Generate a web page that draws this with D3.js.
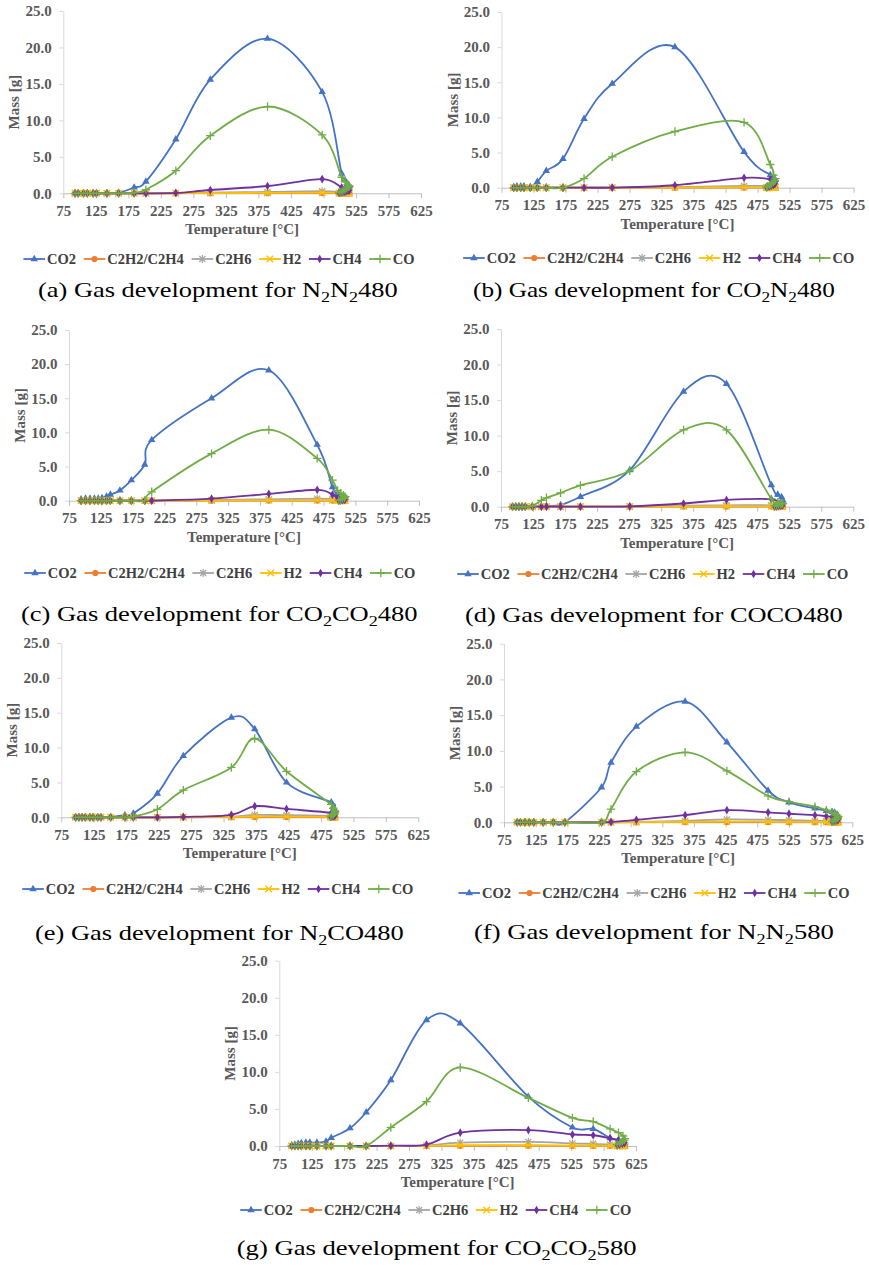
<!DOCTYPE html>
<html>
<head>
<meta charset="utf-8">
<script src="https://cdn.jsdelivr.net/npm/d3@7"></script>
<style>
  body { margin: 0; background: #fff; }
  svg { display: block; }
</style>
</head>
<body>
<svg id="fig" width="869" height="1265"></svg>
<script>
// ---------- shared axis / legend definitions ----------
const SERIES_NAMES  = ["CO2", "C2H2/C2H4", "C2H6", "H2", "CH4", "CO"];
const SERIES_COLORS = ["#4472C4", "#ED7D31", "#A5A5A5", "#FFC000", "#7030A0", "#70AD47"];
const SERIES_MARKERS = ["triangle", "circle", "asterisk", "cross", "diamond", "plus"];
const X_TICKS = [75, 125, 175, 225, 275, 325, 375, 425, 475, 525, 575, 625];
const Y_TICKS = [0, 5, 10, 15, 20, 25];
const X_TITLE = "Temperature [°C]";
const Y_TITLE = "Mass [g]";

// ---------- (a) N2N2480 ----------
const TEMP_A = [93, 98, 106, 112, 121, 126, 142, 160, 184, 202, 248, 301, 389, 473, 503, 508, 512, 515, 514, 511, 508, 505, 502, 499];
const CO2_A  = [0, 0, 0, 0, 0, 0, 0, 0.1, 0.8, 1.6, 7.4, 15.6, 21.2, 13.9, 2.7, 1.8, 1.3, 1.0, 0.8, 0.6, 0.4, 0.3, 0.2, 0.1];
const C2H2_A = [0, 0, 0, 0, 0, 0, 0, 0, 0, 0, 0.01, 0.02, 0.02, 0.03, 0.02, 0.02, 0.02, 0.01, 0.01, 0.01, 0.01, 0, 0, 0];
const C2H6_A = [0, 0, 0, 0, 0, 0, 0, 0, 0, 0, 0.02, 0.08, 0.18, 0.28, 0.15, 0.12, 0.1, 0.08, 0.07, 0.06, 0.05, 0.04, 0.03, 0.02];
const H2_A   = [0, 0, 0, 0, 0, 0, 0, 0, 0, 0, 0.01, 0.03, 0.05, 0.08, 0.05, 0.04, 0.03, 0.03, 0.02, 0.02, 0.02, 0.01, 0.01, 0.01];
const CH4_A  = [0, 0, 0, 0, 0, 0, 0, 0, 0, 0, 0.05, 0.45, 1.0, 1.95, 0.8, 0.6, 0.5, 0.4, 0.35, 0.3, 0.2, 0.15, 0.1, 0.05];
const CO_A   = [0, 0, 0, 0, 0, 0, 0, 0, 0.1, 0.5, 3.1, 7.9, 11.9, 8.0, 2.2, 1.6, 1.2, 1.0, 0.9, 0.7, 0.5, 0.3, 0.2, 0.1];

// ---------- (b) CO2N2480 ----------
const TEMP_B = [94, 99, 105, 110, 120, 131, 145, 171, 204, 248, 346, 454, 495, 500, 503, 502, 500, 497, 494, 491, 489];
const CO2_B  = [0.1, 0.2, 0.2, 0.2, 0.1, 0.85, 2.4, 4.1, 9.8, 14.8, 20.0, 5.1, 1.8, 1.4, 1.1, 0.9, 0.7, 0.5, 0.35, 0.2, 0.1];
const C2H2_B = [0, 0, 0, 0, 0, 0, 0, 0, 0, 0, 0.01, 0.02, 0.02, 0.02, 0.02, 0.01, 0.01, 0.01, 0.01, 0, 0];
const C2H6_B = [0, 0, 0, 0, 0, 0, 0, 0, 0, 0.01, 0.08, 0.25, 0.25, 0.2, 0.15, 0.12, 0.1, 0.08, 0.06, 0.04, 0.02];
const H2_B   = [0, 0, 0, 0, 0, 0, 0, 0, 0, 0, 0.03, 0.05, 0.05, 0.04, 0.03, 0.03, 0.02, 0.02, 0.01, 0.01, 0.01];
const CH4_B  = [0, 0, 0, 0, 0, 0, 0, 0, 0, 0.02, 0.35, 1.4, 1.2, 0.9, 0.7, 0.5, 0.4, 0.3, 0.2, 0.1, 0.05];
const CO_B   = [0, 0, 0, 0, 0, 0, 0, 0, 1.3, 4.4, 8.0, 9.3, 3.3, 1.8, 1.3, 1.0, 0.8, 0.6, 0.4, 0.2, 0.1];

// ---------- (c) CO2CO2480 ----------
const TEMP_C = [94, 101, 108, 115, 121, 127, 134, 140, 155, 173, 194, 205, 299, 389, 465, 489, 497, 502, 506, 509, 508, 505, 502, 499];
const CO2_C  = [0.2, 0.3, 0.3, 0.3, 0.3, 0.4, 0.6, 0.9, 1.5, 3.0, 5.3, 8.9, 15.0, 19.1, 8.2, 2.0, 1.0, 0.7, 0.5, 0.4, 0.3, 0.2, 0.1, 0.05];
const C2H2_C = [0, 0, 0, 0, 0, 0, 0, 0, 0, 0, 0, 0, 0.01, 0.02, 0.02, 0.02, 0.02, 0.01, 0.01, 0.01, 0.01, 0, 0, 0];
const C2H6_C = [0, 0, 0, 0, 0, 0, 0, 0, 0, 0, 0, 0, 0.1, 0.2, 0.3, 0.25, 0.15, 0.12, 0.1, 0.08, 0.06, 0.05, 0.03, 0.02];
const H2_C   = [0, 0, 0, 0, 0, 0, 0, 0, 0, 0, 0, 0, 0.03, 0.05, 0.06, 0.05, 0.04, 0.03, 0.03, 0.02, 0.02, 0.01, 0.01, 0.01];
const CH4_C  = [0, 0, 0, 0, 0, 0, 0, 0, 0, 0, 0, 0, 0.3, 1.0, 1.6, 0.9, 0.4, 0.3, 0.25, 0.2, 0.15, 0.1, 0.05, 0.02];
const CO_C   = [0, 0, 0, 0, 0, 0, 0, 0, 0, 0, 0, 1.3, 6.9, 10.4, 6.2, 3.0, 1.5, 1.1, 0.8, 0.6, 0.4, 0.3, 0.15, 0.05];

// ---------- (d) COCO480 ----------
const TEMP_D = [93, 98, 103, 108, 113, 124, 138, 146, 168, 199, 276, 360, 427, 497, 507, 513, 515, 514, 511, 508, 505, 502];
const CO2_D  = [0, 0, 0, 0, 0, 0, 0.05, 0.1, 0.25, 1.4, 5.15, 16.2, 17.3, 3.05, 1.7, 1.35, 0.9, 0.7, 0.5, 0.35, 0.2, 0.1];
const C2H2_D = [0, 0, 0, 0, 0, 0, 0, 0, 0, 0, 0.01, 0.02, 0.02, 0.02, 0.02, 0.01, 0.01, 0.01, 0.01, 0, 0, 0];
const C2H6_D = [0, 0, 0, 0, 0, 0, 0, 0, 0, 0, 0.03, 0.15, 0.2, 0.2, 0.15, 0.12, 0.1, 0.08, 0.06, 0.04, 0.03, 0.02];
const H2_D   = [0, 0, 0, 0, 0, 0, 0, 0, 0, 0, 0.02, 0.05, 0.06, 0.05, 0.04, 0.03, 0.03, 0.02, 0.02, 0.01, 0.01, 0.01];
const CH4_D  = [0, 0, 0, 0, 0, 0, 0, 0, 0, 0, 0.05, 0.45, 0.95, 1.05, 0.4, 0.3, 0.25, 0.2, 0.15, 0.1, 0.05, 0.02];
const CO_D   = [0, 0, 0, 0, 0, 0.1, 0.9, 1.25, 1.95, 3.0, 5.05, 10.8, 10.8, 1.1, 0.6, 0.5, 0.45, 0.4, 0.35, 0.3, 0.2, 0.1];

// ---------- (e) N2CO480 ----------
const TEMP_E = [97, 102, 107, 112, 119, 124, 131, 136, 151, 173, 186, 223, 263, 337, 373, 422, 491, 494, 496, 497, 496, 494, 492, 490];
const CO2_E  = [0, 0, 0, 0, 0, 0, 0, 0, 0.05, 0.3, 0.55, 3.4, 8.8, 14.3, 12.65, 5.0, 2.15, 1.5, 1.1, 0.8, 0.6, 0.4, 0.2, 0.1];
const C2H2_E = [0, 0, 0, 0, 0, 0, 0, 0, 0, 0, 0, 0, 0.01, 0.02, 0.03, 0.03, 0.02, 0.02, 0.01, 0.01, 0.01, 0.01, 0, 0];
const C2H6_E = [0, 0, 0, 0, 0, 0, 0, 0, 0, 0, 0, 0, 0.02, 0.1, 0.35, 0.3, 0.2, 0.15, 0.12, 0.1, 0.08, 0.06, 0.04, 0.02];
const H2_E   = [0, 0, 0, 0, 0, 0, 0, 0, 0, 0, 0, 0, 0.01, 0.05, 0.12, 0.1, 0.06, 0.05, 0.04, 0.03, 0.02, 0.02, 0.01, 0.01];
const CH4_E  = [0, 0, 0, 0, 0, 0, 0, 0, 0, 0, 0, 0, 0.05, 0.35, 1.6, 1.2, 0.65, 0.45, 0.35, 0.3, 0.2, 0.15, 0.1, 0.05];
const CO_E   = [0, 0, 0, 0, 0, 0, 0, 0, 0, 0, 0.1, 1.15, 3.9, 7.15, 11.3, 6.6, 1.85, 1.3, 1.0, 0.8, 0.6, 0.4, 0.25, 0.1];

// ---------- (f) N2N2580 ----------
const TEMP_F = [96, 101, 108, 115, 122, 137, 153, 171, 229, 244, 284, 361, 427, 492, 525, 566, 584, 593, 597, 601, 603, 602, 599, 596, 593];
const CO2_F  = [0, 0, 0, 0, 0, 0, 0, 0, 4.9, 8.35, 13.4, 16.9, 11.2, 4.45, 2.8, 1.95, 1.6, 1.45, 1.35, 1.1, 0.8, 0.6, 0.4, 0.2, 0.1];
const C2H2_F = [0, 0, 0, 0, 0, 0, 0, 0, 0, 0.01, 0.02, 0.03, 0.03, 0.03, 0.02, 0.02, 0.02, 0.02, 0.01, 0.01, 0.01, 0.01, 0, 0, 0];
const C2H6_F = [0, 0, 0, 0, 0, 0, 0, 0, 0, 0, 0.05, 0.2, 0.4, 0.35, 0.3, 0.2, 0.18, 0.15, 0.12, 0.1, 0.08, 0.06, 0.04, 0.03, 0.02];
const H2_F   = [0, 0, 0, 0, 0, 0, 0, 0, 0, 0, 0.02, 0.06, 0.1, 0.08, 0.06, 0.05, 0.04, 0.04, 0.03, 0.03, 0.02, 0.02, 0.01, 0.01, 0.01];
const CH4_F  = [0, 0, 0, 0, 0, 0, 0, 0, 0, 0.05, 0.35, 1.0, 1.7, 1.4, 1.2, 1.0, 0.85, 0.75, 0.6, 0.5, 0.4, 0.3, 0.2, 0.15, 0.1];
const CO_F   = [0, 0, 0, 0, 0, 0, 0, 0, 0, 1.85, 7.1, 9.8, 7.2, 3.7, 2.9, 2.2, 1.7, 1.4, 1.2, 1.0, 0.8, 0.6, 0.4, 0.2, 0.1];

// ---------- (g) CO2CO2580 ----------
const TEMP_G = [94, 99, 104, 109, 116, 122, 133, 147, 155, 184, 209, 247, 302, 354, 459, 527, 559, 585, 598, 605, 608, 607, 604, 600, 596];
const CO2_G  = [0.1, 0.2, 0.3, 0.4, 0.45, 0.45, 0.45, 0.6, 1.1, 2.4, 4.55, 8.9, 17.0, 16.55, 6.65, 2.5, 2.3, 1.05, 0.8, 0.6, 0.5, 0.4, 0.3, 0.2, 0.1];
const C2H2_G = [0, 0, 0, 0, 0, 0, 0, 0, 0, 0, 0, 0, 0.02, 0.03, 0.04, 0.03, 0.03, 0.02, 0.02, 0.02, 0.01, 0.01, 0.01, 0, 0];
const C2H6_G = [0, 0, 0, 0, 0, 0, 0, 0, 0, 0, 0, 0, 0.05, 0.45, 0.55, 0.35, 0.3, 0.2, 0.15, 0.12, 0.1, 0.08, 0.05, 0.03, 0.02];
const H2_G   = [0, 0, 0, 0, 0, 0, 0, 0, 0, 0, 0, 0, 0.02, 0.1, 0.1, 0.06, 0.05, 0.04, 0.03, 0.03, 0.02, 0.02, 0.01, 0.01, 0.01];
const CH4_G  = [0, 0, 0, 0, 0, 0, 0, 0, 0, 0, 0, 0.05, 0.2, 1.8, 2.15, 1.55, 1.45, 1.05, 0.8, 0.6, 0.5, 0.4, 0.3, 0.2, 0.1];
const CO_G   = [0, 0, 0, 0, 0, 0, 0, 0, 0, 0, 0, 2.5, 6.0, 10.6, 6.5, 3.8, 3.3, 2.3, 1.8, 1.35, 1.0, 0.8, 0.6, 0.4, 0.2];

// ---------- panel placement ----------
const PANELS = [
  { temps: TEMP_A, series: [CO2_A, C2H2_A, C2H6_A, H2_A, CH4_A, CO_A],
    x0: 63.3, x1: 421, yTop: 11, y0: 193.3, legendCx: 219, legendY: 259,
    capCx: 218, capW: 360, capY: 297, caption: "(a) Gas development for N₂N₂480" },
  { temps: TEMP_B, series: [CO2_B, C2H2_B, C2H6_B, H2_B, CH4_B, CO_B],
    x0: 501.5, x1: 853.5, yTop: 12, y0: 187.7, legendCx: 658.7, legendY: 258,
    capCx: 654, capW: 362, capY: 297, caption: "(b) Gas development for CO₂N₂480" },
  { temps: TEMP_C, series: [CO2_C, C2H2_C, C2H6_C, H2_C, CH4_C, CO_C],
    x0: 69, x1: 419, yTop: 330, y0: 500.7, legendCx: 219.8, legendY: 573,
    capCx: 219.4, capW: 397, capY: 621, caption: "(c) Gas development for CO₂CO₂480" },
  { temps: TEMP_D, series: [CO2_D, C2H2_D, C2H6_D, H2_D, CH4_D, CO_D],
    x0: 501, x1: 853.3, yTop: 329, y0: 506.7, legendCx: 652.8, legendY: 574,
    capCx: 654, capW: 378, capY: 622, caption: "(d) Gas development for COCO480" },
  { temps: TEMP_E, series: [CO2_E, C2H2_E, C2H6_E, H2_E, CH4_E, CO_E],
    x0: 61.3, x1: 418.3, yTop: 643, y0: 817.3, legendCx: 217.8, legendY: 889,
    capCx: 219.5, capW: 369, capY: 940, caption: "(e) Gas development for N₂CO480" },
  { temps: TEMP_F, series: [CO2_F, C2H2_F, C2H6_F, H2_F, CH4_F, CO_F],
    x0: 504, x1: 852.3, yTop: 643.7, y0: 822.3, legendCx: 654, legendY: 893,
    capCx: 654, capW: 360, capY: 939, caption: "(f) Gas development for N₂N₂580" },
  { temps: TEMP_G, series: [CO2_G, C2H2_G, C2H6_G, H2_G, CH4_G, CO_G],
    x0: 279.3, x1: 636, yTop: 960.7, y0: 1146, legendCx: 435.8, legendY: 1210,
    capCx: 436.7, capW: 400, capY: 1255, caption: "(g) Gas development for CO₂CO₂580" }
];

const FONT = "'Liberation Serif', 'Times New Roman', serif";
const LABEL_SIZE = 15;
const LEGEND_SIZE = 14.5;
const svg = d3.select("#fig");

// Excel-style marker glyphs
function drawMarker(g, kind, color, cx, cy) {
  if (kind === "triangle") {
    g.append("path").attr("d", d3.symbol(d3.symbolTriangle, 24)())
      .attr("transform", `translate(${cx},${cy})`).attr("fill", color);
  } else if (kind === "circle") {
    g.append("circle").attr("cx", cx).attr("cy", cy).attr("r", 3.1).attr("fill", color);
  } else if (kind === "diamond") {
    g.append("path").attr("d", d3.symbol(d3.symbolDiamond, 22)())
      .attr("transform", `translate(${cx},${cy})`).attr("fill", color);
  } else if (kind === "asterisk") {
    const s = 3;
    g.append("path")
      .attr("d", `M${cx - s},${cy - s}L${cx + s},${cy + s}M${cx - s},${cy + s}L${cx + s},${cy - s}M${cx},${cy - s * 1.3}L${cx},${cy + s * 1.3}`)
      .attr("stroke", color).attr("stroke-width", 1.2).attr("fill", "none");
  } else if (kind === "cross") {
    const s = 3.3;
    g.append("path")
      .attr("d", `M${cx - s},${cy - s}L${cx + s},${cy + s}M${cx - s},${cy + s}L${cx + s},${cy - s}`)
      .attr("stroke", color).attr("stroke-width", 1.3).attr("fill", "none");
  } else if (kind === "plus") {
    const s = 4.2;
    g.append("path")
      .attr("d", `M${cx - s},${cy}L${cx + s},${cy}M${cx},${cy - s}L${cx},${cy + s}`)
      .attr("stroke", color).attr("stroke-width", 1.3).attr("fill", "none");
  }
}

function drawPanel(p) {
  const g = svg.append("g");
  const x = d3.scaleLinear().domain([75, 625]).range([p.x0, p.x1]);
  const y = d3.scaleLinear().domain([0, 25]).range([p.y0, p.yTop]);

  // y axis
  const ya = g.append("g").attr("transform", `translate(${p.x0},0)`)
    .call(d3.axisLeft(y).tickValues(Y_TICKS).tickFormat(d3.format(".1f"))
      .tickSize(4).tickSizeOuter(0).tickPadding(7.5));
  ya.select(".domain").attr("stroke", "#d9d9d9").attr("stroke-width", 1);
  ya.selectAll(".tick line").attr("stroke", "#d9d9d9");
  ya.selectAll(".tick text").attr("font-family", FONT).attr("font-size", LABEL_SIZE)
    .attr("font-weight", "bold").attr("fill", "#595959");

  // x axis
  const xa = g.append("g").attr("transform", `translate(0,${p.y0})`)
    .call(d3.axisBottom(x).tickValues(X_TICKS).tickSize(5).tickSizeOuter(0).tickPadding(7));
  xa.select(".domain").attr("stroke", "#bfbfbf").attr("stroke-width", 1);
  xa.selectAll(".tick line").attr("stroke", "#bfbfbf");
  xa.selectAll(".tick text").attr("font-family", FONT).attr("font-size", LABEL_SIZE)
    .attr("font-weight", "bold").attr("fill", "#595959");

  // axis titles
  g.append("text").attr("x", (p.x0 + p.x1) / 2).attr("y", p.y0 + 41)
    .attr("text-anchor", "middle").attr("font-family", FONT).attr("font-size", LABEL_SIZE)
    .attr("font-weight", "bold").attr("fill", "#595959").text(X_TITLE);
  g.append("text")
    .attr("transform", `translate(${p.x0 - 44},${(p.y0 + p.yTop) / 2}) rotate(-90)`)
    .attr("text-anchor", "middle").attr("font-family", FONT).attr("font-size", LABEL_SIZE)
    .attr("font-weight", "bold").attr("fill", "#595959").text(Y_TITLE);

  // smoothed series lines (uniform Catmull-Rom, as in spreadsheet smoothing) with markers
  const line = d3.line().curve(d3.curveCatmullRom.alpha(0));
  p.series.forEach((vals, si) => {
    const pts = p.temps.map((t, i) => [x(t), y(vals[i])]);
    const sg = g.append("g");
    sg.append("path").attr("d", line(pts)).attr("fill", "none")
      .attr("stroke", SERIES_COLORS[si]).attr("stroke-width", 1.8)
      .attr("stroke-linejoin", "round").attr("stroke-linecap", "round");
    pts.forEach(([px, py]) => drawMarker(sg, SERIES_MARKERS[si], SERIES_COLORS[si], px, py));
  });

  // legend, centred under the chart
  const lg = g.append("g");
  const LINE_LEN = 21.6, TEXT_GAP = 2, ITEM_GAP = 7.7;
  const items = SERIES_NAMES.map((name, si) => {
    const ig = lg.append("g");
    const t = ig.append("text").attr("font-family", FONT).attr("font-size", LEGEND_SIZE)
      .attr("font-weight", "bold").attr("fill", "#404040").text(name);
    return { ig, t, w: t.node().getComputedTextLength(), si };
  });
  const total = d3.sum(items, d => LINE_LEN + TEXT_GAP + d.w) + ITEM_GAP * (items.length - 1);
  let cx = p.legendCx - total / 2;
  items.forEach(d => {
    const c = SERIES_COLORS[d.si];
    d.ig.append("line").attr("x1", cx).attr("x2", cx + LINE_LEN)
      .attr("y1", p.legendY).attr("y2", p.legendY).attr("stroke", c).attr("stroke-width", 1.8);
    drawMarker(d.ig, SERIES_MARKERS[d.si], c, cx + LINE_LEN / 2, p.legendY);
    d.t.attr("x", cx + LINE_LEN + TEXT_GAP).attr("y", p.legendY + 5);
    cx += LINE_LEN + TEXT_GAP + d.w + ITEM_GAP;
  });

  // sub-figure caption with subscript digits
  const cap = g.append("text").attr("font-family", FONT).attr("font-size", 22).attr("fill", "#000");
  let shifted = false;
  p.caption.split(/(₂)/).filter(s => s.length).forEach(s => {
    if (s === "₂") {
      cap.append("tspan").attr("font-size", 15).attr("dy", shifted ? 0 : 5).text("2");
      shifted = true;
    } else {
      cap.append("tspan").attr("dy", shifted ? -5 : 0).text(s);
      shifted = false;
    }
  });
  const w = cap.node().getComputedTextLength();
  cap.attr("transform", `translate(${p.capCx - p.capW / 2},${p.capY}) scale(${p.capW / w},1)`);
}

PANELS.forEach(drawPanel);
</script>
</body>
</html>
